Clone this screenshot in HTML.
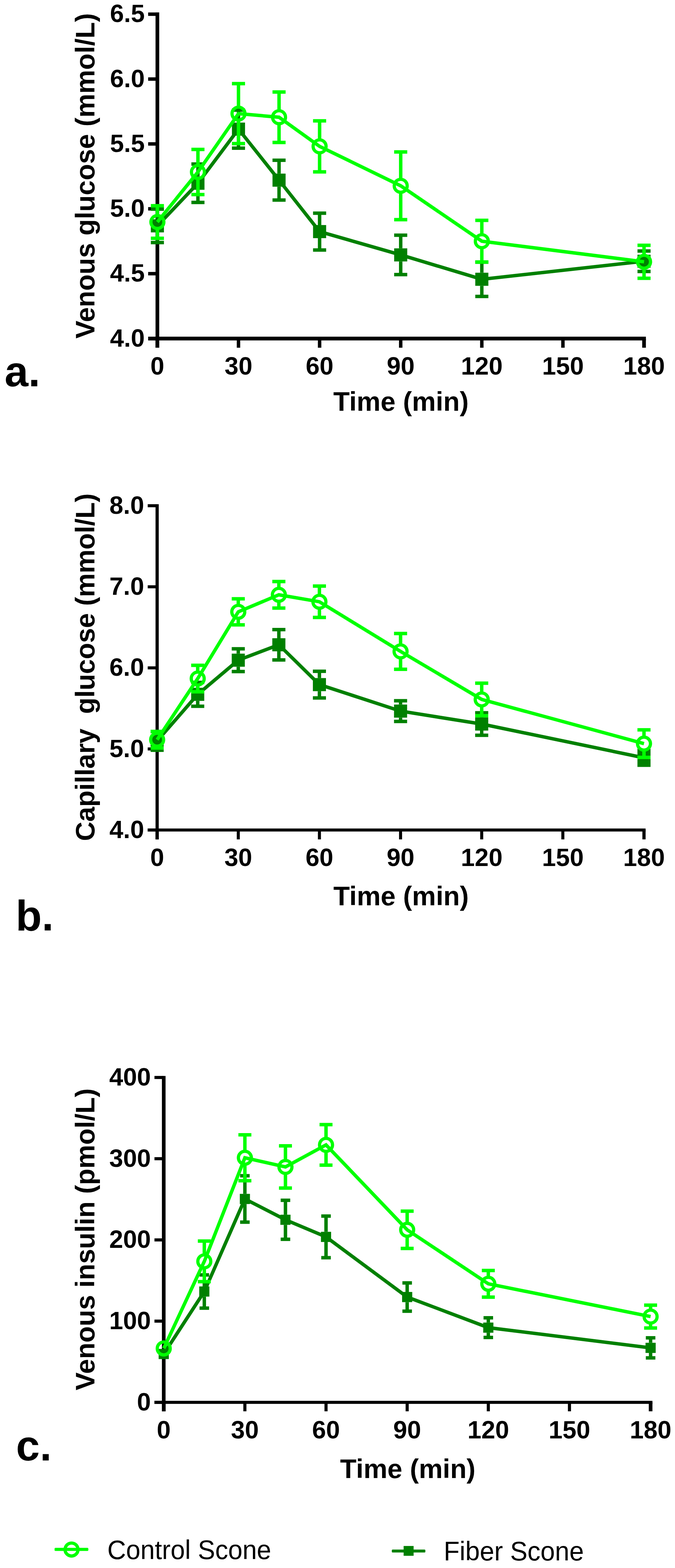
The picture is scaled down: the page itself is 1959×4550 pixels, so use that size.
<!DOCTYPE html>
<html lang="en">
<head>
<meta charset="utf-8">
<title>Glucose and insulin response: Control Scone vs Fiber Scone</title>
<style>
html, body { margin: 0; padding: 0; background: #fff; }
body { width: 1959px; height: 4550px; overflow: hidden; }
svg { display: block; }
text { font-family: 'Liberation Sans', Arial, Helvetica, sans-serif; fill: #000; }
.tk { font-size: 72.5px; font-weight: bold; }
.ttl { font-size: 78px; font-weight: bold; white-space: pre; }
.pl { font-size: 124px; font-weight: bold; }
.lg { font-size: 78px; font-weight: normal; }
</style>
</head>
<body>
<svg width="1959" height="4550" viewBox="0 0 1959 4550">
<rect x="0" y="0" width="1959" height="4550" fill="#fff"/>
<g>
<rect x="451.4" y="36" width="10.7" height="973" fill="#000"/>
<rect x="430" y="976.95" width="1444.5" height="10.9" fill="#000"/>
<rect x="430" y="36.15" width="26.75" height="10" fill="#000"/>
<text x="420" y="64.45" class="tk" text-anchor="end">6.5</text>
<rect x="430" y="224.4" width="26.75" height="10" fill="#000"/>
<text x="420" y="252.7" class="tk" text-anchor="end">6.0</text>
<rect x="430" y="412.65" width="26.75" height="10" fill="#000"/>
<text x="420" y="440.95" class="tk" text-anchor="end">5.5</text>
<rect x="430" y="600.9" width="26.75" height="10" fill="#000"/>
<text x="420" y="629.2" class="tk" text-anchor="end">5.0</text>
<rect x="430" y="789.15" width="26.75" height="10" fill="#000"/>
<text x="420" y="817.45" class="tk" text-anchor="end">4.5</text>
<rect x="430" y="977.4" width="26.75" height="10" fill="#000"/>
<text x="420" y="1005.7" class="tk" text-anchor="end">4.0</text>
<rect x="451.4" y="982.4" width="10.7" height="26.6" fill="#000"/>
<text x="456.75" y="1086.8" class="tk" text-anchor="middle">0</text>
<rect x="687.15" y="982.4" width="10" height="26.6" fill="#000"/>
<text x="692.15" y="1086.8" class="tk" text-anchor="middle">30</text>
<rect x="922.55" y="982.4" width="10" height="26.6" fill="#000"/>
<text x="927.55" y="1086.8" class="tk" text-anchor="middle">60</text>
<rect x="1157.95" y="982.4" width="10" height="26.6" fill="#000"/>
<text x="1162.95" y="1086.8" class="tk" text-anchor="middle">90</text>
<rect x="1393.35" y="982.4" width="10" height="26.6" fill="#000"/>
<text x="1398.35" y="1086.8" class="tk" text-anchor="middle">120</text>
<rect x="1628.75" y="982.4" width="10" height="26.6" fill="#000"/>
<text x="1633.75" y="1086.8" class="tk" text-anchor="middle">150</text>
<rect x="1863.8" y="982.4" width="10.7" height="26.6" fill="#000"/>
<text x="1869.15" y="1086.8" class="tk" text-anchor="middle">180</text>
<text class="ttl" transform="translate(274.4 982.5) rotate(-90)" textLength="944.4" lengthAdjust="spacing" xml:space="preserve">Venous glucose (mmol/L)</text>
<text class="ttl" x="967.2" y="1192.4">Time (min)</text>
<text class="pl" x="13.2" y="1121">a.</text>
<rect x="451.75" y="606.85" width="10" height="29.5" fill="#008000"/>
<rect x="451.75" y="674.35" width="10" height="29.5" fill="#008000"/>
<rect x="437.75" y="601.85" width="38" height="10" fill="#008000"/>
<rect x="437.75" y="698.85" width="38" height="10" fill="#008000"/>
<rect x="569.45" y="476" width="10" height="36.7" fill="#008000"/>
<rect x="569.45" y="550.7" width="10" height="36.7" fill="#008000"/>
<rect x="555.45" y="471" width="38" height="10" fill="#008000"/>
<rect x="555.45" y="582.4" width="38" height="10" fill="#008000"/>
<rect x="687.15" y="319.5" width="10" height="36.2" fill="#008000"/>
<rect x="687.15" y="393.7" width="10" height="36.2" fill="#008000"/>
<rect x="673.15" y="314.5" width="38" height="10" fill="#008000"/>
<rect x="673.15" y="424.9" width="38" height="10" fill="#008000"/>
<rect x="804.85" y="465" width="10" height="38.75" fill="#008000"/>
<rect x="804.85" y="541.75" width="10" height="38.75" fill="#008000"/>
<rect x="790.85" y="460" width="38" height="10" fill="#008000"/>
<rect x="790.85" y="575.5" width="38" height="10" fill="#008000"/>
<rect x="922.55" y="618.6" width="10" height="34.45" fill="#008000"/>
<rect x="922.55" y="691.05" width="10" height="34.45" fill="#008000"/>
<rect x="908.55" y="613.6" width="38" height="10" fill="#008000"/>
<rect x="908.55" y="720.5" width="38" height="10" fill="#008000"/>
<rect x="1157.95" y="682.5" width="10" height="38.15" fill="#008000"/>
<rect x="1157.95" y="758.65" width="10" height="38.15" fill="#008000"/>
<rect x="1143.95" y="677.5" width="38" height="10" fill="#008000"/>
<rect x="1143.95" y="791.8" width="38" height="10" fill="#008000"/>
<rect x="1393.35" y="760.6" width="10" height="30.8" fill="#008000"/>
<rect x="1393.35" y="829.4" width="10" height="30.8" fill="#008000"/>
<rect x="1379.35" y="755.6" width="38" height="10" fill="#008000"/>
<rect x="1379.35" y="855.2" width="38" height="10" fill="#008000"/>
<rect x="1864.15" y="728.4" width="10" height="10.65" fill="#008000"/>
<rect x="1864.15" y="777.05" width="10" height="10.65" fill="#008000"/>
<rect x="1850.15" y="723.4" width="38" height="10" fill="#008000"/>
<rect x="1850.15" y="782.7" width="38" height="10" fill="#008000"/>
<polyline fill="none" stroke="#008000" stroke-width="10" stroke-linejoin="miter" points="456.75,655.35 574.45,531.7 692.15,374.7 809.85,522.75 927.55,672.05 1162.95,739.65 1398.35,810.4 1869.15,758.05"/>
<rect x="437.75" y="636.35" width="38" height="38" fill="#008000"/>
<rect x="555.45" y="512.7" width="38" height="38" fill="#008000"/>
<rect x="673.15" y="355.7" width="38" height="38" fill="#008000"/>
<rect x="790.85" y="503.75" width="38" height="38" fill="#008000"/>
<rect x="908.55" y="653.05" width="38" height="38" fill="#008000"/>
<rect x="1143.95" y="720.65" width="38" height="38" fill="#008000"/>
<rect x="1379.35" y="791.4" width="38" height="38" fill="#008000"/>
<rect x="1850.15" y="739.05" width="38" height="38" fill="#008000"/>
<rect x="451.75" y="597" width="10" height="28.45" fill="#00ff00"/>
<rect x="451.75" y="663.05" width="10" height="28.45" fill="#00ff00"/>
<rect x="437.75" y="592" width="38" height="10" fill="#00ff00"/>
<rect x="437.75" y="686.5" width="38" height="10" fill="#00ff00"/>
<rect x="569.45" y="433.6" width="10" height="46.7" fill="#00ff00"/>
<rect x="569.45" y="517.9" width="10" height="46.7" fill="#00ff00"/>
<rect x="555.45" y="428.6" width="38" height="10" fill="#00ff00"/>
<rect x="555.45" y="559.6" width="38" height="10" fill="#00ff00"/>
<rect x="687.15" y="242.65" width="10" height="68.2" fill="#00ff00"/>
<rect x="687.15" y="348.45" width="10" height="68.2" fill="#00ff00"/>
<rect x="673.15" y="237.65" width="38" height="10" fill="#00ff00"/>
<rect x="673.15" y="411.65" width="38" height="10" fill="#00ff00"/>
<rect x="804.85" y="267" width="10" height="54.4" fill="#00ff00"/>
<rect x="804.85" y="359" width="10" height="54.4" fill="#00ff00"/>
<rect x="790.85" y="262" width="38" height="10" fill="#00ff00"/>
<rect x="790.85" y="408.4" width="38" height="10" fill="#00ff00"/>
<rect x="922.55" y="350.7" width="10" height="55.2" fill="#00ff00"/>
<rect x="922.55" y="443.5" width="10" height="55.2" fill="#00ff00"/>
<rect x="908.55" y="345.7" width="38" height="10" fill="#00ff00"/>
<rect x="908.55" y="493.7" width="38" height="10" fill="#00ff00"/>
<rect x="1157.95" y="440.9" width="10" height="79.45" fill="#00ff00"/>
<rect x="1157.95" y="557.95" width="10" height="79.45" fill="#00ff00"/>
<rect x="1143.95" y="435.9" width="38" height="10" fill="#00ff00"/>
<rect x="1143.95" y="632.4" width="38" height="10" fill="#00ff00"/>
<rect x="1393.35" y="639.4" width="10" height="41.75" fill="#00ff00"/>
<rect x="1393.35" y="718.75" width="10" height="41.75" fill="#00ff00"/>
<rect x="1379.35" y="634.4" width="38" height="10" fill="#00ff00"/>
<rect x="1379.35" y="755.5" width="38" height="10" fill="#00ff00"/>
<rect x="1864.15" y="711.8" width="10" height="29.05" fill="#00ff00"/>
<rect x="1864.15" y="778.45" width="10" height="29.05" fill="#00ff00"/>
<rect x="1850.15" y="706.8" width="38" height="10" fill="#00ff00"/>
<rect x="1850.15" y="802.5" width="38" height="10" fill="#00ff00"/>
<polyline fill="none" stroke="#00ff00" stroke-width="10" stroke-linejoin="miter" points="456.75,644.25 574.45,499.1 692.15,329.65 809.85,340.2 927.55,424.7 1162.95,539.15 1398.35,699.95 1869.15,759.65"/>
<circle cx="456.75" cy="644.25" r="18.8" fill="none" stroke="#00ff00" stroke-width="9.4"/>
<circle cx="574.45" cy="499.1" r="18.8" fill="none" stroke="#00ff00" stroke-width="9.4"/>
<circle cx="692.15" cy="329.65" r="18.8" fill="none" stroke="#00ff00" stroke-width="9.4"/>
<circle cx="809.85" cy="340.2" r="18.8" fill="none" stroke="#00ff00" stroke-width="9.4"/>
<circle cx="927.55" cy="424.7" r="18.8" fill="none" stroke="#00ff00" stroke-width="9.4"/>
<circle cx="1162.95" cy="539.15" r="18.8" fill="none" stroke="#00ff00" stroke-width="9.4"/>
<circle cx="1398.35" cy="699.95" r="18.8" fill="none" stroke="#00ff00" stroke-width="9.4"/>
<circle cx="1869.15" cy="759.65" r="18.8" fill="none" stroke="#00ff00" stroke-width="9.4"/>
</g>
<g>
<rect x="451.4" y="1463.1" width="9.3" height="972.6" fill="#000"/>
<rect x="428.7" y="2404.15" width="1444.95" height="8.7" fill="#000"/>
<rect x="428.7" y="1463.1" width="27.35" height="8.8" fill="#000"/>
<text x="418.3" y="1490.8" class="tk" text-anchor="end">8.0</text>
<rect x="428.7" y="1698.35" width="27.35" height="8.8" fill="#000"/>
<text x="418.3" y="1726.05" class="tk" text-anchor="end">7.0</text>
<rect x="428.7" y="1933.6" width="27.35" height="8.8" fill="#000"/>
<text x="418.3" y="1961.3" class="tk" text-anchor="end">6.0</text>
<rect x="428.7" y="2168.85" width="27.35" height="8.8" fill="#000"/>
<text x="418.3" y="2196.55" class="tk" text-anchor="end">5.0</text>
<rect x="428.7" y="2404.1" width="27.35" height="8.8" fill="#000"/>
<text x="418.3" y="2431.8" class="tk" text-anchor="end">4.0</text>
<rect x="451.4" y="2408.5" width="9.3" height="27.2" fill="#000"/>
<text x="456.05" y="2512.8" class="tk" text-anchor="middle">0</text>
<rect x="687.14" y="2408.5" width="8.8" height="27.2" fill="#000"/>
<text x="691.54" y="2512.8" class="tk" text-anchor="middle">30</text>
<rect x="922.63" y="2408.5" width="8.8" height="27.2" fill="#000"/>
<text x="927.03" y="2512.8" class="tk" text-anchor="middle">60</text>
<rect x="1158.12" y="2408.5" width="8.8" height="27.2" fill="#000"/>
<text x="1162.53" y="2512.8" class="tk" text-anchor="middle">90</text>
<rect x="1393.62" y="2408.5" width="8.8" height="27.2" fill="#000"/>
<text x="1398.02" y="2512.8" class="tk" text-anchor="middle">120</text>
<rect x="1629.11" y="2408.5" width="8.8" height="27.2" fill="#000"/>
<text x="1633.51" y="2512.8" class="tk" text-anchor="middle">150</text>
<rect x="1864.35" y="2408.5" width="9.3" height="27.2" fill="#000"/>
<text x="1869" y="2512.8" class="tk" text-anchor="middle">180</text>
<text class="ttl" transform="translate(274.4 2440.5) rotate(-90)" textLength="1008.9" lengthAdjust="spacing" xml:space="preserve">Capillary  glucose (mmol/L)</text>
<text class="ttl" x="967.5" y="2626.7">Time (min)</text>
<text class="pl" x="45.5" y="2699.7">b.</text>
<rect x="451.05" y="2123" width="10" height="8" fill="#008000"/>
<rect x="451.05" y="2169" width="10" height="8" fill="#008000"/>
<rect x="437.05" y="2118" width="38" height="10" fill="#008000"/>
<rect x="437.05" y="2172" width="38" height="10" fill="#008000"/>
<rect x="568.8" y="1980.2" width="10" height="15.6" fill="#008000"/>
<rect x="568.8" y="2033.8" width="10" height="15.6" fill="#008000"/>
<rect x="554.8" y="1975.2" width="38" height="10" fill="#008000"/>
<rect x="554.8" y="2044.4" width="38" height="10" fill="#008000"/>
<rect x="686.54" y="1882.7" width="10" height="14" fill="#008000"/>
<rect x="686.54" y="1934.7" width="10" height="14" fill="#008000"/>
<rect x="672.54" y="1877.7" width="38" height="10" fill="#008000"/>
<rect x="672.54" y="1943.7" width="38" height="10" fill="#008000"/>
<rect x="804.29" y="1827" width="10" height="25" fill="#008000"/>
<rect x="804.29" y="1890" width="10" height="25" fill="#008000"/>
<rect x="790.29" y="1822" width="38" height="10" fill="#008000"/>
<rect x="790.29" y="1910" width="38" height="10" fill="#008000"/>
<rect x="922.03" y="1947.9" width="10" height="19.7" fill="#008000"/>
<rect x="922.03" y="2005.6" width="10" height="19.7" fill="#008000"/>
<rect x="908.03" y="1942.9" width="38" height="10" fill="#008000"/>
<rect x="908.03" y="2020.3" width="38" height="10" fill="#008000"/>
<rect x="1157.53" y="2033.45" width="10" height="11" fill="#008000"/>
<rect x="1157.53" y="2082.45" width="10" height="11" fill="#008000"/>
<rect x="1143.53" y="2028.45" width="38" height="10" fill="#008000"/>
<rect x="1143.53" y="2088.45" width="38" height="10" fill="#008000"/>
<rect x="1393.02" y="2068.4" width="10" height="13.6" fill="#008000"/>
<rect x="1393.02" y="2120" width="10" height="13.6" fill="#008000"/>
<rect x="1379.02" y="2063.4" width="38" height="10" fill="#008000"/>
<rect x="1379.02" y="2128.6" width="38" height="10" fill="#008000"/>
<rect x="1864" y="2177.5" width="10" height="2.5" fill="#008000"/>
<rect x="1864" y="2218" width="10" height="2.5" fill="#008000"/>
<rect x="1850" y="2172.5" width="38" height="10" fill="#008000"/>
<rect x="1850" y="2215.5" width="38" height="10" fill="#008000"/>
<polyline fill="none" stroke="#008000" stroke-width="10" stroke-linejoin="miter" points="456.05,2150 573.8,2014.8 691.54,1915.7 809.29,1871 927.03,1986.6 1162.53,2063.45 1398.02,2101 1869,2199"/>
<rect x="437.05" y="2131" width="38" height="38" fill="#008000"/>
<rect x="554.8" y="1995.8" width="38" height="38" fill="#008000"/>
<rect x="672.54" y="1896.7" width="38" height="38" fill="#008000"/>
<rect x="790.29" y="1852" width="38" height="38" fill="#008000"/>
<rect x="908.03" y="1967.6" width="38" height="38" fill="#008000"/>
<rect x="1143.53" y="2044.45" width="38" height="38" fill="#008000"/>
<rect x="1379.02" y="2082" width="38" height="38" fill="#008000"/>
<rect x="1850" y="2180" width="38" height="38" fill="#008000"/>
<rect x="451.05" y="2122.5" width="10" height="5.2" fill="#00ff00"/>
<rect x="451.05" y="2165.3" width="10" height="5.2" fill="#00ff00"/>
<rect x="437.05" y="2117.5" width="38" height="10" fill="#00ff00"/>
<rect x="437.05" y="2165.5" width="38" height="10" fill="#00ff00"/>
<rect x="568.8" y="1930.6" width="10" height="19.6" fill="#00ff00"/>
<rect x="568.8" y="1987.8" width="10" height="19.6" fill="#00ff00"/>
<rect x="554.8" y="1925.6" width="38" height="10" fill="#00ff00"/>
<rect x="554.8" y="2002.4" width="38" height="10" fill="#00ff00"/>
<rect x="686.54" y="1737.6" width="10" height="19" fill="#00ff00"/>
<rect x="686.54" y="1794.2" width="10" height="19" fill="#00ff00"/>
<rect x="672.54" y="1732.6" width="38" height="10" fill="#00ff00"/>
<rect x="672.54" y="1808.2" width="38" height="10" fill="#00ff00"/>
<rect x="804.29" y="1687.5" width="10" height="19.7" fill="#00ff00"/>
<rect x="804.29" y="1744.8" width="10" height="19.7" fill="#00ff00"/>
<rect x="790.29" y="1682.5" width="38" height="10" fill="#00ff00"/>
<rect x="790.29" y="1759.5" width="38" height="10" fill="#00ff00"/>
<rect x="922.03" y="1700.65" width="10" height="26.7" fill="#00ff00"/>
<rect x="922.03" y="1764.95" width="10" height="26.7" fill="#00ff00"/>
<rect x="908.03" y="1695.65" width="38" height="10" fill="#00ff00"/>
<rect x="908.03" y="1786.65" width="38" height="10" fill="#00ff00"/>
<rect x="1157.53" y="1838.3" width="10" height="33.1" fill="#00ff00"/>
<rect x="1157.53" y="1909" width="10" height="33.1" fill="#00ff00"/>
<rect x="1143.53" y="1833.3" width="38" height="10" fill="#00ff00"/>
<rect x="1143.53" y="1937.1" width="38" height="10" fill="#00ff00"/>
<rect x="1393.02" y="1982.45" width="10" height="28.4" fill="#00ff00"/>
<rect x="1393.02" y="2048.45" width="10" height="28.4" fill="#00ff00"/>
<rect x="1379.02" y="1977.45" width="38" height="10" fill="#00ff00"/>
<rect x="1379.02" y="2071.85" width="38" height="10" fill="#00ff00"/>
<rect x="1864" y="2117.85" width="10" height="21.2" fill="#00ff00"/>
<rect x="1864" y="2176.65" width="10" height="21.2" fill="#00ff00"/>
<rect x="1850" y="2112.85" width="38" height="10" fill="#00ff00"/>
<rect x="1850" y="2192.85" width="38" height="10" fill="#00ff00"/>
<polyline fill="none" stroke="#00ff00" stroke-width="10" stroke-linejoin="miter" points="456.05,2146.5 573.8,1969 691.54,1775.4 809.29,1726 927.03,1746.15 1162.53,1890.2 1398.02,2029.65 1869,2157.85"/>
<circle cx="456.05" cy="2146.5" r="18.8" fill="none" stroke="#00ff00" stroke-width="9.4"/>
<circle cx="573.8" cy="1969" r="18.8" fill="none" stroke="#00ff00" stroke-width="9.4"/>
<circle cx="691.54" cy="1775.4" r="18.8" fill="none" stroke="#00ff00" stroke-width="9.4"/>
<circle cx="809.29" cy="1726" r="18.8" fill="none" stroke="#00ff00" stroke-width="9.4"/>
<circle cx="927.03" cy="1746.15" r="18.8" fill="none" stroke="#00ff00" stroke-width="9.4"/>
<circle cx="1162.53" cy="1890.2" r="18.8" fill="none" stroke="#00ff00" stroke-width="9.4"/>
<circle cx="1398.02" cy="2029.65" r="18.8" fill="none" stroke="#00ff00" stroke-width="9.4"/>
<circle cx="1869" cy="2157.85" r="18.8" fill="none" stroke="#00ff00" stroke-width="9.4"/>
</g>
<g>
<rect x="469.9" y="3122.2" width="10.6" height="973.1" fill="#000"/>
<rect x="448.3" y="4064.9" width="1445.2" height="8.8" fill="#000"/>
<rect x="448.3" y="3122.1" width="26.9" height="9" fill="#000"/>
<text x="437.9" y="3149.9" class="tk" text-anchor="end">400</text>
<rect x="448.3" y="3357.78" width="26.9" height="9" fill="#000"/>
<text x="437.9" y="3385.58" class="tk" text-anchor="end">300</text>
<rect x="448.3" y="3593.45" width="26.9" height="9" fill="#000"/>
<text x="437.9" y="3621.25" class="tk" text-anchor="end">200</text>
<rect x="448.3" y="3829.12" width="26.9" height="9" fill="#000"/>
<text x="437.9" y="3856.93" class="tk" text-anchor="end">100</text>
<rect x="448.3" y="4064.8" width="26.9" height="9" fill="#000"/>
<text x="437.9" y="4092.6" class="tk" text-anchor="end">0</text>
<rect x="469.9" y="4069.3" width="10.6" height="26" fill="#000"/>
<text x="475.2" y="4174" class="tk" text-anchor="middle">0</text>
<rect x="706.2" y="4069.3" width="9" height="26" fill="#000"/>
<text x="710.7" y="4174" class="tk" text-anchor="middle">30</text>
<rect x="941.7" y="4069.3" width="9" height="26" fill="#000"/>
<text x="946.2" y="4174" class="tk" text-anchor="middle">60</text>
<rect x="1177.2" y="4069.3" width="9" height="26" fill="#000"/>
<text x="1181.7" y="4174" class="tk" text-anchor="middle">90</text>
<rect x="1412.7" y="4069.3" width="9" height="26" fill="#000"/>
<text x="1417.2" y="4174" class="tk" text-anchor="middle">120</text>
<rect x="1648.2" y="4069.3" width="9" height="26" fill="#000"/>
<text x="1652.7" y="4174" class="tk" text-anchor="middle">150</text>
<rect x="1882.9" y="4069.3" width="10.6" height="26" fill="#000"/>
<text x="1888.2" y="4174" class="tk" text-anchor="middle">180</text>
<text class="ttl" transform="translate(274.4 4034.4) rotate(-90)" textLength="876.3" lengthAdjust="spacing" xml:space="preserve">Venous insulin (pmol/L)</text>
<text class="ttl" x="987.1" y="4288.5">Time (min)</text>
<text class="pl" x="46.5" y="4238.1">c.</text>
<rect x="587.95" y="3699.5" width="10" height="33.45" fill="#008000"/>
<rect x="587.95" y="3762.45" width="10" height="33.45" fill="#008000"/>
<rect x="579.1" y="3694.5" width="27.7" height="10" fill="#008000"/>
<rect x="579.1" y="3790.9" width="27.7" height="10" fill="#008000"/>
<rect x="705.7" y="3411.8" width="10" height="52.55" fill="#008000"/>
<rect x="705.7" y="3493.85" width="10" height="52.55" fill="#008000"/>
<rect x="696.85" y="3406.8" width="27.7" height="10" fill="#008000"/>
<rect x="696.85" y="3541.4" width="27.7" height="10" fill="#008000"/>
<rect x="823.45" y="3482.95" width="10" height="41.85" fill="#008000"/>
<rect x="823.45" y="3554.3" width="10" height="41.85" fill="#008000"/>
<rect x="814.6" y="3477.95" width="27.7" height="10" fill="#008000"/>
<rect x="814.6" y="3591.15" width="27.7" height="10" fill="#008000"/>
<rect x="941.2" y="3528.8" width="10" height="45.65" fill="#008000"/>
<rect x="941.2" y="3603.95" width="10" height="45.65" fill="#008000"/>
<rect x="932.35" y="3523.8" width="27.7" height="10" fill="#008000"/>
<rect x="932.35" y="3644.6" width="27.7" height="10" fill="#008000"/>
<rect x="1176.7" y="3722.75" width="10" height="26.25" fill="#008000"/>
<rect x="1176.7" y="3778.5" width="10" height="26.25" fill="#008000"/>
<rect x="1167.85" y="3717.75" width="27.7" height="10" fill="#008000"/>
<rect x="1167.85" y="3799.75" width="27.7" height="10" fill="#008000"/>
<rect x="1412.2" y="3824" width="10" height="13.75" fill="#008000"/>
<rect x="1412.2" y="3867.25" width="10" height="13.75" fill="#008000"/>
<rect x="1403.35" y="3819" width="27.7" height="10" fill="#008000"/>
<rect x="1403.35" y="3876" width="27.7" height="10" fill="#008000"/>
<rect x="1883.2" y="3882.1" width="10" height="14.35" fill="#008000"/>
<rect x="1883.2" y="3925.95" width="10" height="14.35" fill="#008000"/>
<rect x="1874.35" y="3877.1" width="27.7" height="10" fill="#008000"/>
<rect x="1874.35" y="3935.3" width="27.7" height="10" fill="#008000"/>
<polyline fill="none" stroke="#008000" stroke-width="10" stroke-linejoin="miter" points="475.2,3929 592.95,3747.7 710.7,3479.1 828.45,3539.55 946.2,3589.2 1181.7,3763.75 1417.2,3852.5 1888.2,3911.2"/>
<rect x="460.45" y="3914.25" width="29.5" height="29.5" fill="#008000"/>
<rect x="578.2" y="3732.95" width="29.5" height="29.5" fill="#008000"/>
<rect x="695.95" y="3464.35" width="29.5" height="29.5" fill="#008000"/>
<rect x="813.7" y="3524.8" width="29.5" height="29.5" fill="#008000"/>
<rect x="931.45" y="3574.45" width="29.5" height="29.5" fill="#008000"/>
<rect x="1166.95" y="3749" width="29.5" height="29.5" fill="#008000"/>
<rect x="1402.45" y="3837.75" width="29.5" height="29.5" fill="#008000"/>
<rect x="1873.45" y="3896.45" width="29.5" height="29.5" fill="#008000"/>
<rect x="587.95" y="3601.3" width="10" height="40.1" fill="#00ff00"/>
<rect x="587.95" y="3679" width="10" height="40.1" fill="#00ff00"/>
<rect x="574.15" y="3596.3" width="37.6" height="10" fill="#00ff00"/>
<rect x="574.15" y="3714.1" width="37.6" height="10" fill="#00ff00"/>
<rect x="705.7" y="3293" width="10" height="47.8" fill="#00ff00"/>
<rect x="705.7" y="3378.4" width="10" height="47.8" fill="#00ff00"/>
<rect x="691.9" y="3288" width="37.6" height="10" fill="#00ff00"/>
<rect x="691.9" y="3421.2" width="37.6" height="10" fill="#00ff00"/>
<rect x="823.45" y="3325" width="10" height="42.45" fill="#00ff00"/>
<rect x="823.45" y="3405.05" width="10" height="42.45" fill="#00ff00"/>
<rect x="809.65" y="3320" width="37.6" height="10" fill="#00ff00"/>
<rect x="809.65" y="3442.5" width="37.6" height="10" fill="#00ff00"/>
<rect x="941.2" y="3263.4" width="10" height="40" fill="#00ff00"/>
<rect x="941.2" y="3341" width="10" height="40" fill="#00ff00"/>
<rect x="927.4" y="3258.4" width="37.6" height="10" fill="#00ff00"/>
<rect x="927.4" y="3376" width="37.6" height="10" fill="#00ff00"/>
<rect x="1176.7" y="3514.5" width="10" height="35.3" fill="#00ff00"/>
<rect x="1176.7" y="3587.4" width="10" height="35.3" fill="#00ff00"/>
<rect x="1162.9" y="3509.5" width="37.6" height="10" fill="#00ff00"/>
<rect x="1162.9" y="3617.7" width="37.6" height="10" fill="#00ff00"/>
<rect x="1412.2" y="3686.7" width="10" height="19.85" fill="#00ff00"/>
<rect x="1412.2" y="3744.15" width="10" height="19.85" fill="#00ff00"/>
<rect x="1398.4" y="3681.7" width="37.6" height="10" fill="#00ff00"/>
<rect x="1398.4" y="3759" width="37.6" height="10" fill="#00ff00"/>
<rect x="1883.2" y="3787.3" width="10" height="14.35" fill="#00ff00"/>
<rect x="1883.2" y="3839.25" width="10" height="14.35" fill="#00ff00"/>
<rect x="1869.4" y="3782.3" width="37.6" height="10" fill="#00ff00"/>
<rect x="1869.4" y="3848.6" width="37.6" height="10" fill="#00ff00"/>
<polyline fill="none" stroke="#00ff00" stroke-width="10" stroke-linejoin="miter" points="475.2,3912.9 592.95,3660.2 710.7,3359.6 828.45,3386.25 946.2,3322.2 1181.7,3568.6 1417.2,3725.35 1888.2,3820.45"/>
<circle cx="475.2" cy="3912.9" r="18.8" fill="none" stroke="#00ff00" stroke-width="9.4"/>
<circle cx="592.95" cy="3660.2" r="18.8" fill="none" stroke="#00ff00" stroke-width="9.4"/>
<circle cx="710.7" cy="3359.6" r="18.8" fill="none" stroke="#00ff00" stroke-width="9.4"/>
<circle cx="828.45" cy="3386.25" r="18.8" fill="none" stroke="#00ff00" stroke-width="9.4"/>
<circle cx="946.2" cy="3322.2" r="18.8" fill="none" stroke="#00ff00" stroke-width="9.4"/>
<circle cx="1181.7" cy="3568.6" r="18.8" fill="none" stroke="#00ff00" stroke-width="9.4"/>
<circle cx="1417.2" cy="3725.35" r="18.8" fill="none" stroke="#00ff00" stroke-width="9.4"/>
<circle cx="1888.2" cy="3820.45" r="18.8" fill="none" stroke="#00ff00" stroke-width="9.4"/>
</g>
<g>
<rect x="158.4" y="4491.4" width="98" height="9" rx="2.5" fill="#00ff00"/>
<circle cx="207.6" cy="4496.4" r="18.8" fill="none" stroke="#00ff00" stroke-width="9.4"/>
<text class="lg" x="311.6" y="4524.4" textLength="475.5" lengthAdjust="spacingAndGlyphs">Control Scone</text>
<rect x="1137.1" y="4496.55" width="97.4" height="8.5" rx="2.5" fill="#008000"/>
<rect x="1171.4" y="4486.1" width="29" height="28.5" fill="#008000"/>
<text class="lg" x="1287.8" y="4528.3" textLength="406.6" lengthAdjust="spacingAndGlyphs">Fiber Scone</text>
</g>
</svg>
</body>
</html>
